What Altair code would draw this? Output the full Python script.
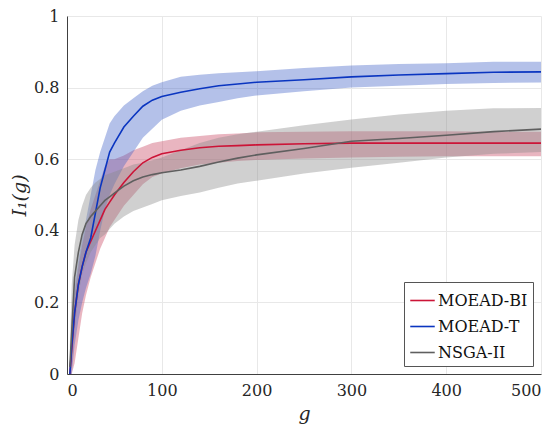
import altair as alt
import pandas as pd

g = [3, 5, 8, 12, 16, 20, 25, 30, 35, 40, 45, 50, 60, 70, 80, 90, 100,
     120, 140, 160, 180, 200, 250, 300, 350, 400, 450, 500]

bi_mean = [0.0, 0.07, 0.17, 0.25, 0.30, 0.34, 0.37, 0.40, 0.43, 0.46, 0.48, 0.50, 0.535, 0.565,
           0.59, 0.605, 0.615, 0.625, 0.632, 0.636, 0.638, 0.64, 0.643, 0.645, 0.645, 0.645, 0.645, 0.645]
bi_lo = [0.0, 0.0, 0.03, 0.10, 0.17, 0.22, 0.27, 0.31, 0.35, 0.38, 0.41, 0.43, 0.47, 0.50,
         0.53, 0.55, 0.56, 0.575, 0.585, 0.59, 0.595, 0.598, 0.602, 0.605, 0.607, 0.608, 0.608, 0.608]
bi_hi = [0.03, 0.13, 0.22, 0.30, 0.36, 0.41, 0.46, 0.50, 0.54, 0.58, 0.60, 0.60, 0.61, 0.625,
         0.635, 0.645, 0.65, 0.66, 0.665, 0.67, 0.672, 0.675, 0.677, 0.678, 0.678, 0.678, 0.677, 0.677]

t_mean = [0.0, 0.08, 0.17, 0.25, 0.30, 0.34, 0.38, 0.45, 0.52, 0.57, 0.62, 0.645, 0.69, 0.72,
          0.748, 0.765, 0.775, 0.787, 0.797, 0.805, 0.81, 0.815, 0.822, 0.83, 0.835, 0.839, 0.843, 0.844]
t_lo = [0.0, 0.0, 0.08, 0.15, 0.20, 0.24, 0.28, 0.33, 0.40, 0.46, 0.50, 0.53, 0.58, 0.62,
        0.66, 0.685, 0.71, 0.735, 0.75, 0.76, 0.77, 0.778, 0.79, 0.80, 0.805, 0.81, 0.813, 0.814]
t_hi = [0.03, 0.15, 0.24, 0.32, 0.38, 0.43, 0.50, 0.57, 0.62, 0.66, 0.70, 0.72, 0.75, 0.77,
        0.79, 0.805, 0.815, 0.83, 0.836, 0.84, 0.843, 0.846, 0.855, 0.862, 0.866, 0.868, 0.872, 0.872]

n_mean = [0.02, 0.12, 0.27, 0.34, 0.39, 0.42, 0.44, 0.455, 0.47, 0.485, 0.495, 0.505, 0.525, 0.54,
          0.55, 0.557, 0.562, 0.57, 0.58, 0.592, 0.603, 0.612, 0.63, 0.65, 0.658, 0.667, 0.677, 0.684]
n_lo = [0.0, 0.02, 0.12, 0.22, 0.28, 0.31, 0.34, 0.36, 0.38, 0.39, 0.405, 0.42, 0.44, 0.455,
        0.465, 0.475, 0.485, 0.497, 0.507, 0.52, 0.532, 0.54, 0.56, 0.576, 0.59, 0.605, 0.615, 0.62]
n_hi = [0.08, 0.25, 0.36, 0.43, 0.47, 0.50, 0.52, 0.535, 0.545, 0.555, 0.56, 0.565, 0.575, 0.585,
        0.59, 0.597, 0.605, 0.625, 0.645, 0.66, 0.67, 0.677, 0.695, 0.711, 0.725, 0.735, 0.742, 0.743]

series = ["MOEAD-BI", "MOEAD-T", "NSGA-II"]
line_colors = ["#cc1437", "#0a35c0", "#5f5f5f"]
band_colors = ["#c84661", "#4364c8", "#898989"]

rows = []
for name, m, lo, hi in [(series[0], bi_mean, bi_lo, bi_hi),
                        (series[1], t_mean, t_lo, t_hi),
                        (series[2], n_mean, n_lo, n_hi)]:
    for gi, mi, li, hi_ in zip(g, m, lo, hi):
        rows.append({"series": name, "g": gi, "mean": mi, "lo": li, "hi": hi_})
df = pd.DataFrame(rows)

serif = "DejaVu Serif"

x_enc = alt.X("g:Q", scale=alt.Scale(domain=[0, 500], nice=False),
              axis=alt.Axis(values=[0, 100, 200, 300, 400, 500], title="g",
                            titleFontStyle="italic", titleFontWeight="normal"))
y_axis = alt.Axis(values=[0, 0.2, 0.4, 0.6, 0.8, 1.0], format="~g", title="I₁(g)",
                  titleFontStyle="italic", titleFontWeight="normal")

bands = alt.Chart(df).mark_area(opacity=0.4).encode(
    x=x_enc,
    y=alt.Y("lo:Q", scale=alt.Scale(domain=[0, 1], nice=False), axis=y_axis),
    y2="hi:Q",
    color=alt.Color("series:N", scale=alt.Scale(domain=series, range=band_colors), legend=None),
    detail="series:N",
)

lines = alt.Chart(df).mark_line(strokeWidth=1.6).encode(
    x="g:Q",
    y="mean:Q",
    stroke=alt.Stroke("series:N", scale=alt.Scale(domain=series, range=line_colors),
                      legend=alt.Legend(title=None, orient="bottom-right", offset=8,
                                        symbolType="stroke", symbolSize=600,
                                        symbolStrokeWidth=1.6,
                                        labelFont=serif, labelFontSize=16,
                                        labelColor="#111111",
                                        strokeColor="#555555", fillColor="white",
                                        padding=5, rowPadding=4, labelOffset=2,
                                        cornerRadius=0)),
)

chart = alt.layer(bands, lines).resolve_scale(color="independent").properties(
    width=474, height=358,
    autosize=alt.AutoSizeParams(type="none"),
    padding={"left": 59, "top": 8, "right": 9, "bottom": 58},
).configure_view(stroke=None).configure_axis(
    domainColor="#404040", gridColor="#e8e8e8", ticks=False,
    labelFont=serif, labelFontSize=16, labelColor="#262626", labelPadding=8,
    titleFont=serif, titleFontSize=19, titleColor="#262626",
).configure_axisX(titlePadding=6).configure_axisY(titlePadding=4)

chart.save("out.html", embed_options={"renderer": "svg", "actions": False})
